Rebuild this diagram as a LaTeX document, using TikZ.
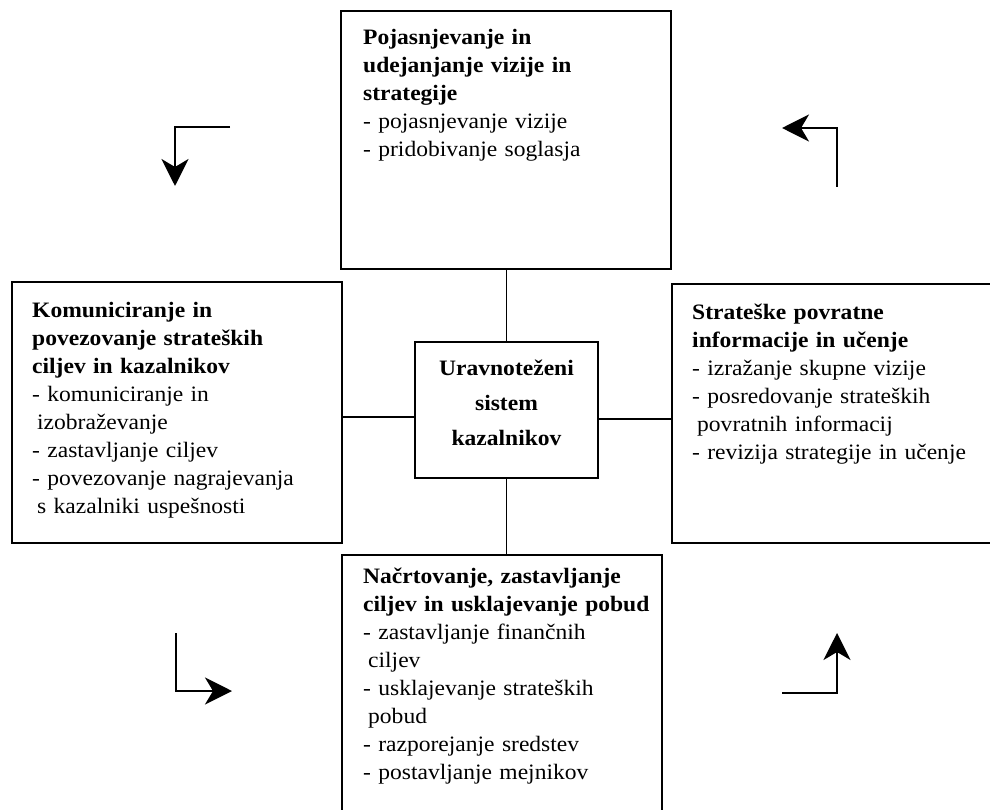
\documentclass[tikz,border=0pt]{standalone}
\usepackage{fontspec}
\setmainfont[FakeStretch=1.07]{Liberation Serif}
\usetikzlibrary{arrows.meta}
\begin{document}
\begin{tikzpicture}[x=1pt,y=-1pt,
  box/.style={draw, line width=1.7pt, inner sep=0pt},
  txt/.style={anchor=north west, inner sep=0pt, align=left, text width=#1,
    font=\fontsize{22}{28}\selectfont},
  hub/.style={anchor=north, inner sep=0pt, align=center, text width=183pt,
    font=\fontsize{22}{35}\selectfont\bfseries},
  link/.style={line width=1.7pt},
  turn/.style={line width=2.6pt, line join=miter,
    -{Stealth[length=27pt,width=27pt,inset=8pt]}}]
\useasboundingbox (0,0) rectangle (990,810);
\clip (0,0) rectangle (990,810);

% frames
\node[box, minimum width=330pt, minimum height=258pt] (top)    at (506,140)   {};
\node[box, minimum width=330pt, minimum height=261pt] (left)   at (177,412.5) {};
\node[box, minimum width=183pt, minimum height=136pt] (center) at (506.5,410) {};
\node[box, minimum width=340pt, minimum height=259pt] (right)  at (842,413.5) {};
\node[box, minimum width=320pt, minimum height=275pt] (bottom) at (502,692.5) {};

% texts
\newcommand{\strt}{\rule{0pt}{16pt}}
\newcommand{\cont}{\hspace*{5pt}}
\node[txt=300pt] (toptext) at (363,28) {\strt\bfseries Pojasnjevanje in\\
  udejanjanje vizije in\\ strategije\\ \mdseries
  - pojasnjevanje vizije\\ - pridobivanje soglasja};
\node[txt=305pt] (lefttext) at (32,301) {\strt\bfseries Komuniciranje in\\
  povezovanje strateških\\ ciljev in kazalnikov\\ \mdseries
  - komuniciranje in\\ \cont izobraževanje\\ - zastavljanje ciljev\\
  - povezovanje nagrajevanja\\ \cont s kazalniki uspešnosti};
\node[txt=310pt] (righttext) at (692,303) {\strt\bfseries Strateške povratne\\
  informacije in učenje\\ \mdseries
  - izražanje skupne vizije\\ - posredovanje strateških\\
  \cont povratnih informacij\\ - revizija strategije in učenje};
\node[txt=300pt] (bottomtext) at (363,567) {\strt\bfseries Načrtovanje, zastavljanje\\
  ciljev in usklajevanje pobud\\ \mdseries
  - zastavljanje finančnih\\ \cont ciljev\\ - usklajevanje strateških\\
  \cont pobud\\ - razporejanje sredstev\\ - postavljanje mejnikov};
\node[hub] (centertext) at (506.5,359) {\strt Uravnoteženi\\ sistem\\ kazalnikov};

% links between the hub and the four frames
\draw[link] (center.north) -- (center.north |- top.south);
\draw[link] (center.south) -- (center.south |- bottom.north);
\draw[link] ([yshift=-7pt]center.west) -- ([yshift=-7pt]center.west -| left.east);
\draw[link] ([yshift=-9pt]center.east) -- ([yshift=-9pt]center.east -| right.west);

% cycle arrows
\coordinate (tlA) at (230,127); \coordinate (tlB) at (175,127); \coordinate (tlC) at (175,186);
\coordinate (trA) at (837,187); \coordinate (trB) at (837,128); \coordinate (trC) at (782,128);
\coordinate (blA) at (176,633); \coordinate (blB) at (176,691); \coordinate (blC) at (232,691);
\coordinate (brA) at (782,693); \coordinate (brB) at (837,693); \coordinate (brC) at (837,633);
\draw[turn] (tlA) -- (tlB) -- (tlC);
\draw[turn] (trA) -- (trB) -- (trC);
\draw[turn] (blA) -- (blB) -- (blC);
\draw[turn] (brA) -- (brB) -- (brC);
\end{tikzpicture}
\end{document}
